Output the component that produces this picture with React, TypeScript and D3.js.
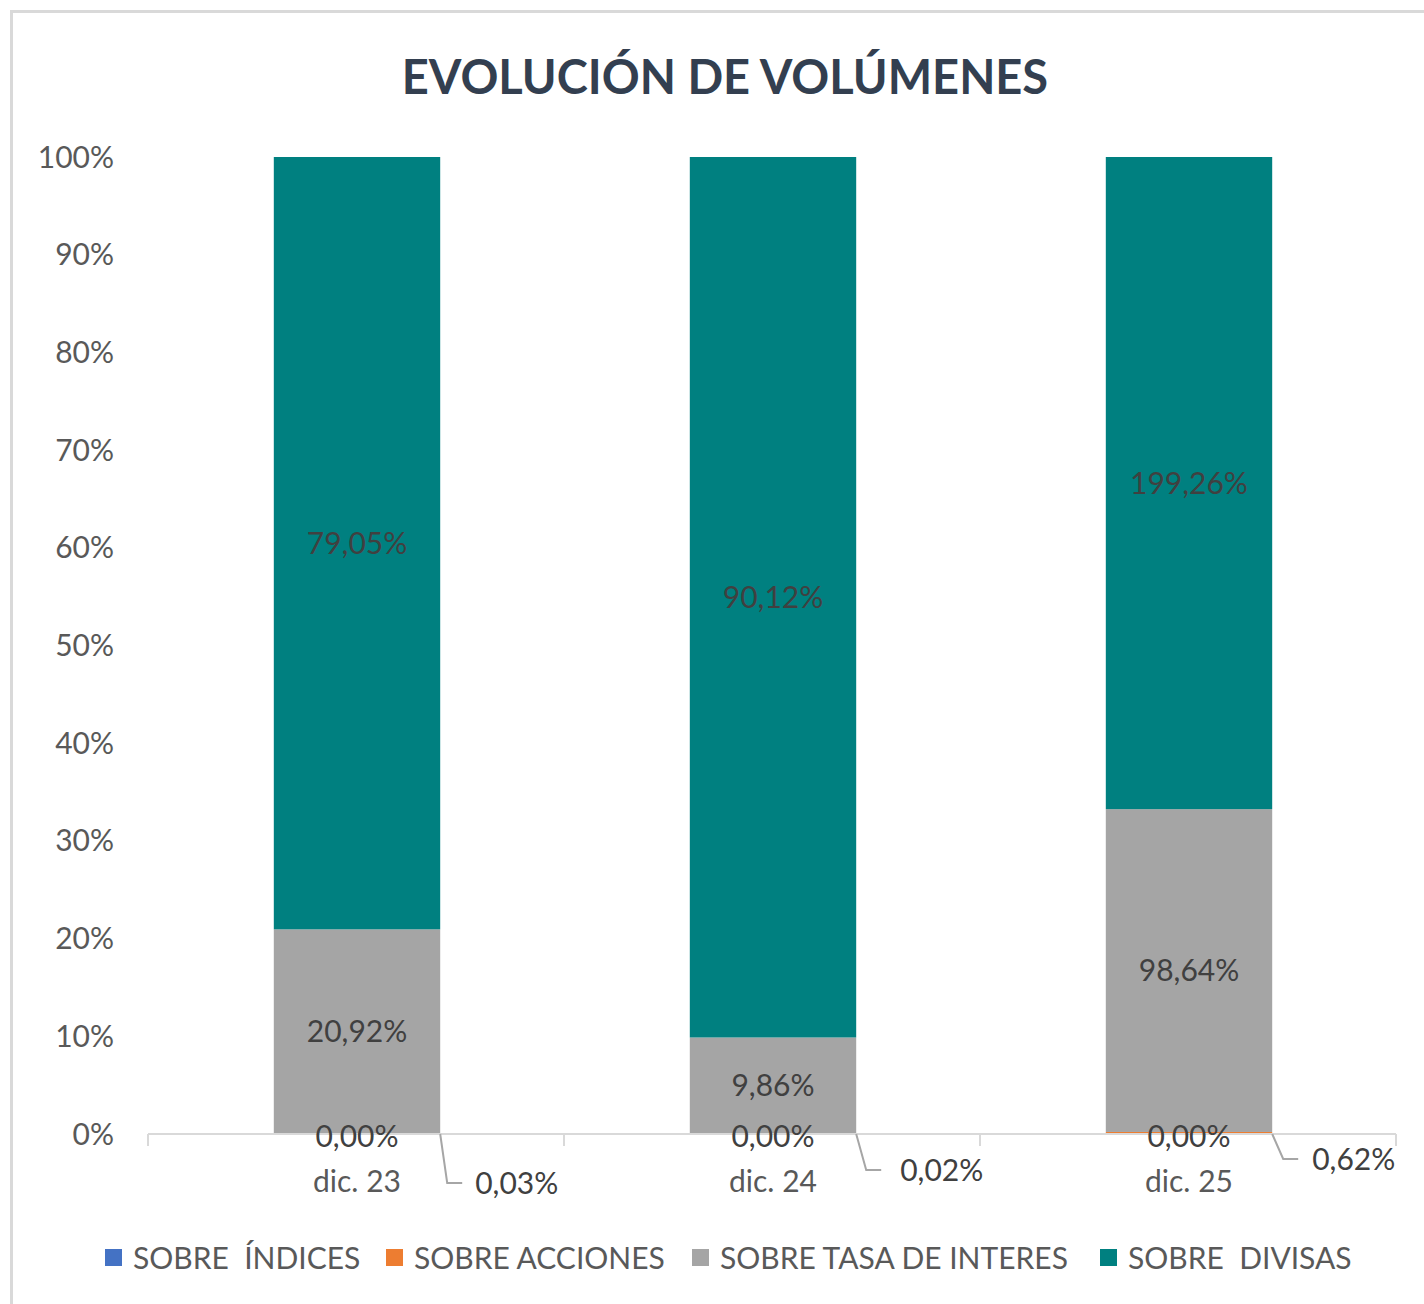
import React from 'react';
import * as d3 from 'd3';

// --- data ---
const categories = ['dic. 23', 'dic. 24', 'dic. 25'];
const seriesKeys = ['indices', 'acciones', 'tasa', 'divisas'];
const seriesNames = ['SOBRE  ÍNDICES', 'SOBRE ACCIONES', 'SOBRE TASA DE INTERES', 'SOBRE  DIVISAS'];
const seriesColors = ['#4472c4', '#ed7d31', '#a5a5a5', '#008080'];
const indices = [0.0, 0.0, 0.0];
const acciones = [0.03, 0.02, 0.62];
const tasa = [20.92, 9.86, 98.64];
const divisas = [79.05, 90.12, 199.26];
const yTicks = [0, 0.1, 0.2, 0.3, 0.4, 0.5, 0.6, 0.7, 0.8, 0.9, 1];

// manually dragged "acciones" labels (leader lines) in the original
const leaderOffsets = [
  { ex: 7, ey: 49, tx: 35 },
  { ex: 10, ey: 36, tx: 44 },
  { ex: 11, ey: 25, tx: 40 },
];

const W = 1424;
const H = 1304;
const margin = { left: 148, right: 28, top: 157, bottom: 170 };
const font = 'Lato, "Open Sans", sans-serif';
const textColor = '#595959';
const labelColor = '#404040';

const fmt = (v: number) => v.toFixed(2).replace('.', ',') + '%';

export default function App() {
  const rows = categories.map((c, i) => ({
    cat: c,
    indices: indices[i],
    acciones: acciones[i],
    tasa: tasa[i],
    divisas: divisas[i],
  }));
  const raw: Record<string, number[]> = { indices, acciones, tasa, divisas };

  const stacked = d3.stack<any>().keys(seriesKeys).offset(d3.stackOffsetExpand)(rows);

  const x = d3
    .scaleBand<string>()
    .domain(categories)
    .range([margin.left, W - margin.right])
    .paddingInner(0.6)
    .paddingOuter(0.3);
  const y = d3.scaleLinear().domain([0, 1]).range([H - margin.bottom, margin.top]);
  const y0 = y(0);
  const step = x.step();
  const tickXs = d3.range(categories.length + 1).map((i) => margin.left + i * step);

  const legendX = [105, 386, 692, 1100];

  return (
    <svg
      width={W}
      height={H}
      style={{ position: 'absolute', left: 0, top: 0, background: '#fff' }}
      fontFamily={font}
    >
      <rect x={0} y={0} width={W} height={H} fill="#fff" />
      {/* chart border */}
      <path d={`M11.5,${H} V11.5 H${W}`} fill="none" stroke="#d9d9d9" strokeWidth={3} />

      {/* title */}
      <text
        x={725}
        y={94}
        textAnchor="middle"
        fontSize={47}
        fontWeight={700}
        fill="#333f50"
      >
        EVOLUCIÓN DE VOLÚMENES
      </text>

      {/* y axis labels */}
      {yTicks.map((t) => (
        <text
          key={t}
          x={114}
          y={y(t)}
          dy="0.35em"
          textAnchor="end"
          fontSize={30}
          fill={textColor}
        >
          {d3.format('.0%')(t)}
        </text>
      ))}

      {/* bars */}
      {stacked.map((layer, si) => (
        <g key={layer.key} fill={seriesColors[si]}>
          {layer.map((d, i) => (
            <rect
              key={i}
              x={(x(categories[i]) as number) + 1}
              y={y(d[1])}
              width={x.bandwidth()}
              height={Math.max(0, y(d[0]) - y(d[1]))}
            />
          ))}
        </g>
      ))}

      {/* x axis */}
      <line x1={margin.left} x2={W - margin.right} y1={y0} y2={y0} stroke="#d9d9d9" strokeWidth={2} />
      {tickXs.map((tx, i) => (
        <line key={i} x1={tx} x2={tx} y1={y0} y2={y0 + 12} stroke="#d9d9d9" strokeWidth={2} />
      ))}
      {categories.map((c) => (
        <text
          key={c}
          x={(x(c) as number) + x.bandwidth() / 2 + 1}
          y={1181}
          dy="0.35em"
          textAnchor="middle"
          fontSize={30}
          fill={textColor}
        >
          {c}
        </text>
      ))}

      {/* data labels */}
      {stacked.map((layer, si) =>
        layer.map((d, i) => {
          const key = seriesKeys[si];
          const cx = (x(categories[i]) as number) + x.bandwidth() / 2 + 1;
          const cy = (y(d[0]) + y(d[1])) / 2;
          const val = raw[key][i];
          if (key === 'acciones') {
            const bx = (x(categories[i]) as number) + x.bandwidth() + 1;
            const o = leaderOffsets[i];
            return (
              <g key={`${key}-${i}`}>
                <polyline
                  points={`${bx},${y0} ${bx + o.ex},${y0 + o.ey} ${bx + o.ex + 15},${y0 + o.ey}`}
                  fill="none"
                  stroke="#a6a6a6"
                  strokeWidth={2}
                />
                <text
                  x={bx + o.tx}
                  y={y0 + o.ey}
                  dy="0.35em"
                  fontSize={30}
                  fill={labelColor}
                >
                  {fmt(val)}
                </text>
              </g>
            );
          }
          return (
            <text
              key={`${key}-${i}`}
              x={cx}
              y={key === 'indices' ? y0 + 2 : cy}
              dy="0.35em"
              textAnchor="middle"
              fontSize={30}
              fill={labelColor}
            >
              {fmt(val)}
            </text>
          );
        })
      )}

      {/* legend */}
      {seriesNames.map((n, i) => (
        <g key={n}>
          <rect x={legendX[i]} y={1249} width={17} height={17} fill={seriesColors[i]} />
          <text
            x={legendX[i] + 28}
            y={1258}
            dy="0.35em"
            fontSize={30}
            fill={textColor}
            style={{ whiteSpace: 'pre' }}
          >
            {n}
          </text>
        </g>
      ))}
    </svg>
  );
}
